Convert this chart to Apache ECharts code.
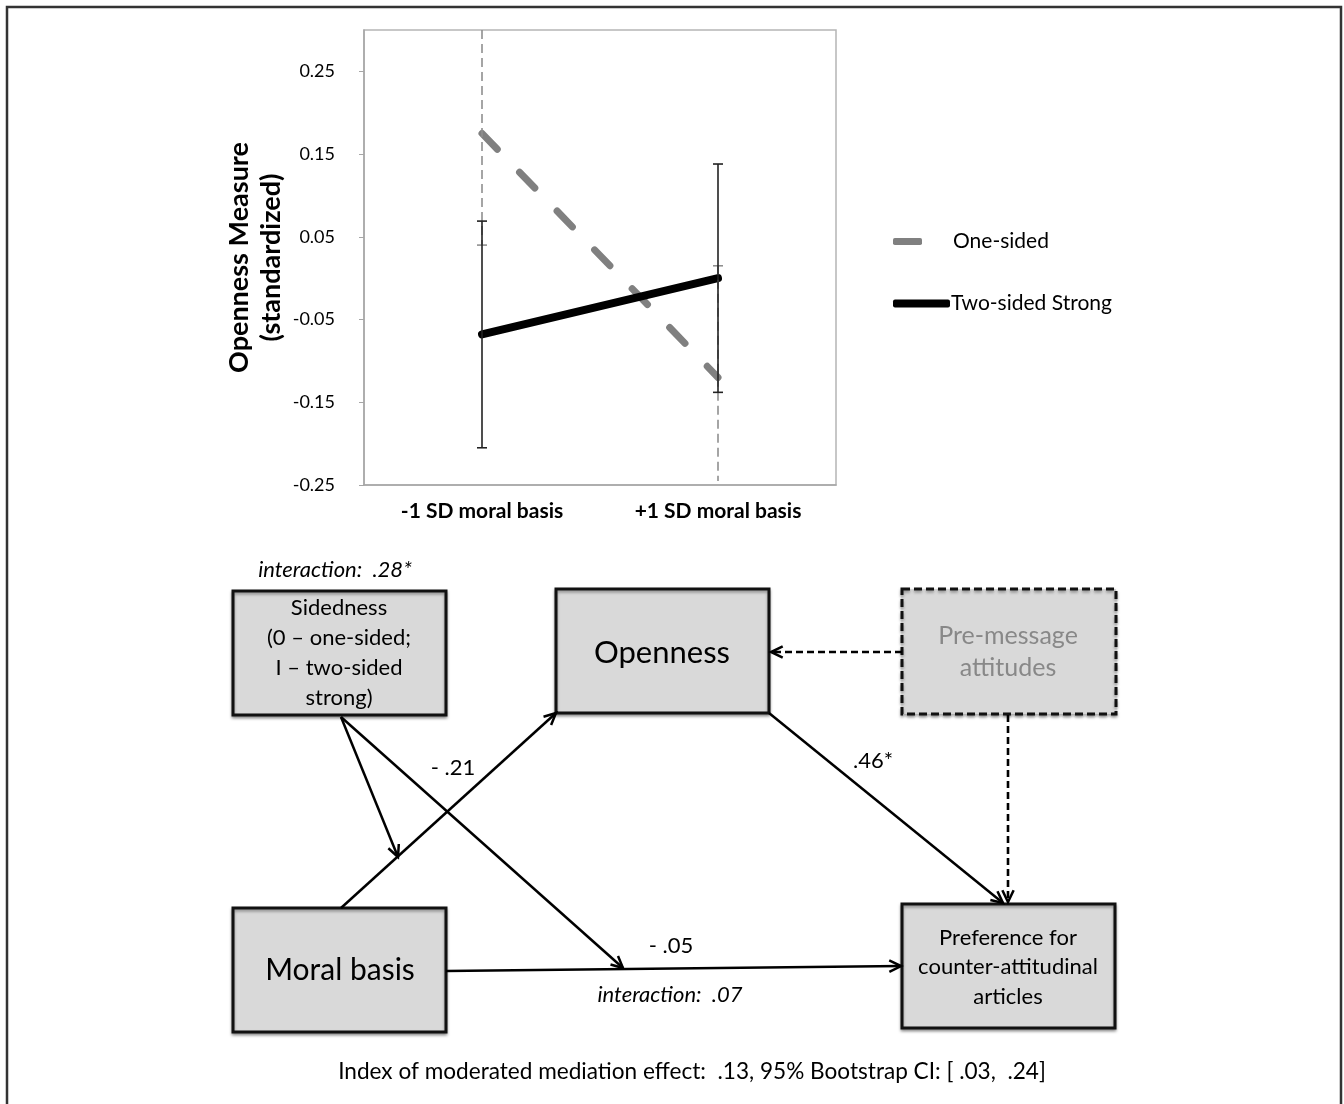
<!DOCTYPE html>
<html>
<head>
<meta charset="utf-8">
<script src="https://cdn.jsdelivr.net/npm/echarts@6/dist/echarts.min.js"></script>
<style>
  html, body { margin: 0; padding: 0; background: #ffffff; }
  #chart { width: 1344px; height: 1104px; }
</style>
</head>
<body>
<div id="chart"></div>
<script>
// Simple slopes of openness at low / high moral basis
const categories = ['-1 SD moral basis', '+1 SD moral basis'];
const seriesNames = ['One-sided', 'Two-sided Strong'];
const oneSided = [0.175, -0.12];
const twoSidedStrong = [-0.068, 0.0];
// half-widths of the error bars
const oneSidedErr = [0.135, 0.135];
const twoSidedErr = [0.137, 0.138];
const yTickValues = [-0.25, -0.15, -0.05, 0.05, 0.15, 0.25];

// Moderated mediation path model
const interactionSidedness = 'interaction:  .28*';
const pathMoralOpenness = '- .21';
const pathOpennessPreference = '.46*';
const pathMoralPreference = '- .05';
const interactionDirect = 'interaction:  .07';
const indexCaption = 'Index of moderated mediation effect:  .13, 95% Bootstrap CI: [ .03,  .24]';

const FONT = 'Lato, "Open Sans", sans-serif';

function errorBarRenderer(color, dashed) {
  return function (params, api) {
    const cs = params.coordSys;
    const idx = api.value(0), mean = api.value(1), err = api.value(2);
    const hi = api.coord([idx, mean + err]);
    const lo = api.coord([idx, mean - err]);
    const yTop = cs.y, yBot = cs.y + cs.height;
    const x = hi[0];
    const y1 = Math.max(hi[1], yTop), y2 = Math.min(lo[1], yBot - 4);
    const cap = 5;
    const children = [{
      type: 'line',
      shape: { x1: x, y1: y1, x2: x, y2: y2 },
      style: { stroke: color, lineWidth: 1.6, lineDash: dashed ? [9, 5] : null }
    }];
    if (hi[1] >= yTop) {
      children.push({ type: 'line', shape: { x1: x - cap, y1: hi[1], x2: x + cap, y2: hi[1] },
        style: { stroke: color, lineWidth: 1.6 } });
    }
    if (lo[1] <= yBot) {
      children.push({ type: 'line', shape: { x1: x - cap, y1: lo[1], x2: x + cap, y2: lo[1] },
        style: { stroke: color, lineWidth: 1.6 } });
    }
    return { type: 'group', children: children };
  };
}

// ---- diagram helpers ----
function box(x, y, w, h, dashed) {
  return {
    type: 'rect',
    shape: { x: x, y: y, width: w, height: h },
    style: {
      fill: '#d9d9d9', stroke: '#111', lineWidth: 3,
      lineDash: dashed ? [8, 4] : null,
      shadowBlur: 3, shadowColor: 'rgba(0,0,0,0.35)', shadowOffsetY: 2
    },
    z: 10
  };
}
function label(x, y, text, size, opts) {
  opts = opts || {};
  return {
    type: 'text', x: x, y: y, z: 20,
    style: {
      text: text,
      font: (opts.italic ? 'italic ' : '') + size + 'px ' + FONT,
      fill: opts.color || '#000',
      align: 'center', verticalAlign: 'middle',
      lineHeight: opts.lineHeight || size * 1.2
    }
  };
}
function arrow(x1, y1, x2, y2, dashed) {
  const ang = Math.atan2(y2 - y1, x2 - x1);
  const L = 13, a = Math.PI / 7;
  const p1 = [x2 - L * Math.cos(ang - a), y2 - L * Math.sin(ang - a)];
  const p2 = [x2 - L * Math.cos(ang + a), y2 - L * Math.sin(ang + a)];
  return [
    { type: 'line', z: 15, shape: { x1: x1, y1: y1, x2: x2, y2: y2 },
      style: { stroke: '#000', lineWidth: dashed ? 2.6 : 2.5, lineDash: dashed ? [7, 4] : null } },
    { type: 'polyline', z: 15, shape: { points: [p1, [x2, y2], p2] },
      style: { stroke: '#000', lineWidth: 2.5, fill: null } }
  ];
}

const diagram = [].concat(
  // outer frame
  [{ type: 'polyline', z: 1, shape: { points: [[7, 1104], [7, 7], [1341, 7], [1341, 1104]] },
     style: { stroke: '#333', lineWidth: 2.5, fill: null } }],
  // arrows
  arrow(341, 908, 556, 713, false),
  arrow(769, 713, 1003, 903, false),
  arrow(446, 971, 901, 966, false),
  arrow(341, 717, 398, 857, false),
  arrow(341, 717, 623, 968, false),
  arrow(902, 652, 771, 652, true),
  arrow(1008, 715, 1008, 902, true),
  // boxes
  [
    box(233, 591, 213, 124, false),
    box(556, 589, 213, 124, false),
    box(902, 589, 214, 125, true),
    box(233, 908, 213, 124, false),
    box(902, 904, 213, 124, false)
  ],
  // texts
  [
    label(335, 570, interactionSidedness, 22, { italic: true }),
    label(339, 653, 'Sidedness\n(0 – one-sided;\nI – two-sided\nstrong)', 22, { lineHeight: 30 }),
    label(662, 653, 'Openness', 31),
    label(1008, 652, 'Pre-message\nattitudes', 25, { color: '#888', lineHeight: 32 }),
    label(340, 970, 'Moral basis', 30),
    label(1008, 967, 'Preference for\ncounter-attitudinal\narticles', 22, { lineHeight: 29.5 }),
    label(453, 768, pathMoralOpenness, 22),
    label(873, 761, pathOpennessPreference, 22),
    label(671, 946, pathMoralPreference, 22),
    label(670, 995, interactionDirect, 22, { italic: true }),
    label(692, 1072, indexCaption, 22.6)
  ]
);

const chart = echarts.init(document.getElementById('chart'), null, { renderer: 'canvas' });
chart.setOption({
  backgroundColor: '#ffffff',
  animation: false,
  textStyle: { fontFamily: FONT },
  grid: {
    left: 364, right: 508, top: 30, bottom: 619,
    show: true, borderColor: '#b5b5b5', borderWidth: 1.5, backgroundColor: 'transparent'
  },
  legend: [
    {
      data: [seriesNames[0]], left: 893, top: 231, padding: 0,
      icon: 'roundRect', itemWidth: 29, itemHeight: 7,
      textStyle: { fontSize: 21, color: '#000', fontFamily: FONT, padding: [0, 0, 0, 26] }
    },
    {
      data: [seriesNames[1]], left: 893, top: 293, padding: 0,
      icon: 'roundRect', itemWidth: 57, itemHeight: 8,
      textStyle: { fontSize: 21, color: '#000', fontFamily: FONT, padding: [0, 0, 0, -4] }
    }
  ],
  xAxis: {
    type: 'category', data: categories, boundaryGap: true,
    axisLine: { show: true, onZero: false, lineStyle: { color: '#a6a6a6', width: 1.5 } },
    axisTick: { show: false },
    axisLabel: { fontSize: 21, fontWeight: 'bold', color: '#000', margin: 16, fontFamily: FONT },
    splitLine: { show: false }
  },
  yAxis: {
    type: 'value', min: -0.25, max: 0.30,
    axisLine: { show: true, lineStyle: { color: '#a6a6a6', width: 1.5 } },
    axisTick: { show: true, customValues: yTickValues, length: 5, lineStyle: { color: '#a6a6a6' } },
    axisLabel: {
      customValues: yTickValues, formatter: function (v) { return v.toFixed(2); },
      fontSize: 18, color: '#000', margin: 29, fontFamily: FONT
    },
    splitLine: { show: false },
    name: 'Openness Measure\n(standardized)',
    nameLocation: 'middle', nameRotate: 90, nameGap: 77,
    nameTextStyle: { fontSize: 27, fontWeight: 'bold', color: '#000', lineHeight: 32, fontFamily: FONT }
  },
  series: [
    {
      name: seriesNames[0], type: 'line', data: oneSided, symbol: 'none', z: 2,
      lineStyle: { color: '#808080', width: 7, type: [22, 32], cap: 'round' },
      itemStyle: { color: '#808080' }
    },
    {
      name: seriesNames[1], type: 'line', data: twoSidedStrong, symbol: 'none', z: 3,
      lineStyle: { color: '#000000', width: 8, cap: 'round' },
      itemStyle: { color: '#000000' }
    },
    {
      type: 'custom', z: 4,
      data: oneSided.map(function (v, i) { return [i, v, oneSidedErr[i]]; }),
      renderItem: errorBarRenderer('#8f8f8f', true)
    },
    {
      type: 'custom', z: 5,
      data: twoSidedStrong.map(function (v, i) { return [i, v, twoSidedErr[i]]; }),
      renderItem: errorBarRenderer('#222222', false)
    }
  ],
  graphic: { elements: diagram }
});
</script>
</body>
</html>
